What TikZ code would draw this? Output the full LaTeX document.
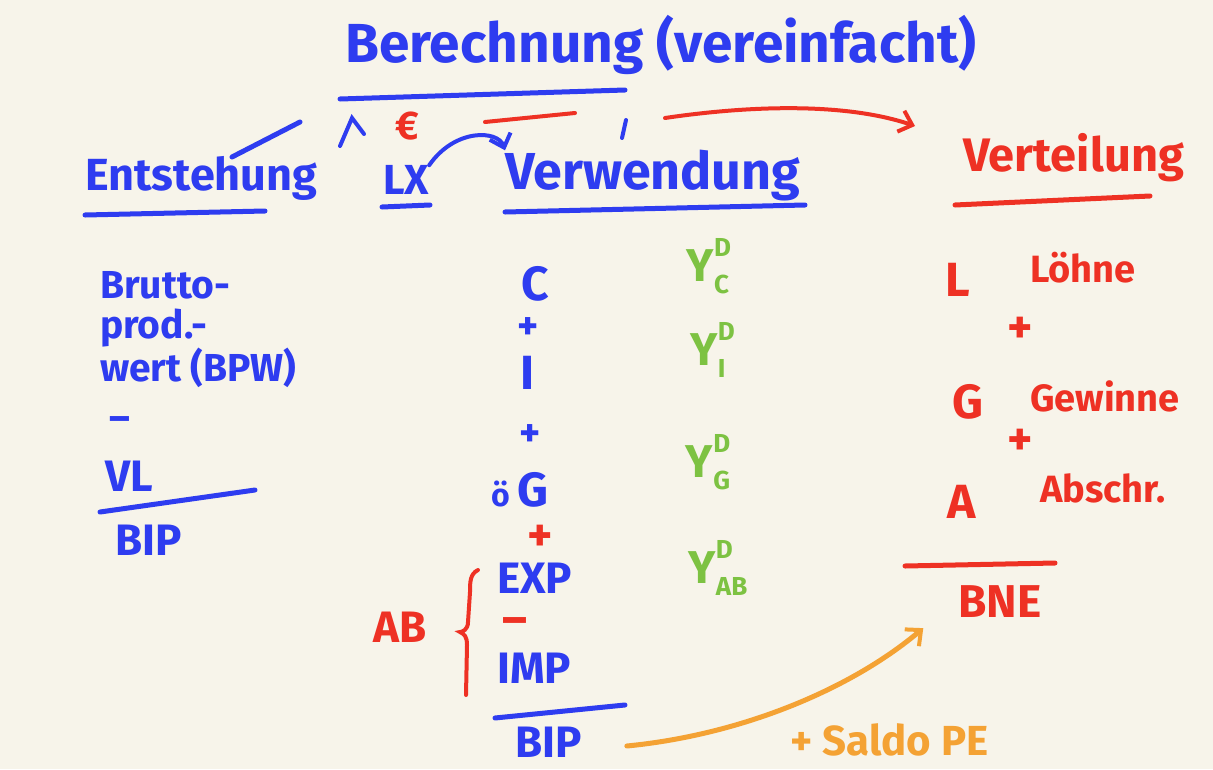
\documentclass[tikz,border=0pt]{standalone}
\usepackage{fontspec}
\setmainfont{Fira Sans}
\usetikzlibrary{arrows.meta,calc}
\definecolor{bg}{HTML}{F7F4EA}
\definecolor{penblue}{HTML}{2E3CF0}
\definecolor{penred}{HTML}{EE3124}
\definecolor{pengreen}{HTML}{7DC242}
\definecolor{penorange}{HTML}{F4A234}
\newcommand{\fs}[1]{\fontsize{#1}{#1}\selectfont\bfseries}
\newcommand{\ydc}[1]{Y\rlap{\raisebox{0.55em}{\fs{26}D}}\raisebox{-0.25em}{\fs{26}#1}}
\tikzset{
  bl/.style={text=penblue, inner sep=0pt, font=\fs{44}},
  rd/.style={text=penred, inner sep=0pt, font=\fs{44}},
  gr/.style={text=pengreen, inner sep=0pt, font=\fs{46}},
  og/.style={text=penorange, inner sep=0pt, font=\fs{42}},
  bstroke/.style={draw=penblue, line width=5pt, line cap=round},
  rstroke/.style={draw=penred, line width=5pt, line cap=round},
  ostroke/.style={draw=penorange, line width=5pt, line cap=round},
  pentip/.style={-{Straight Barb[length=12pt,width=22pt,line width=4pt]}}
}
\begin{document}
\begin{tikzpicture}[x=1pt,y=-1pt]
\fill[bg] (0,0) rectangle (1213,769);
\useasboundingbox (0,0) rectangle (1213,769);

% title
\node[bl, anchor=west, font=\fs{55}] (title) at (345,45) {Berechnung (vereinfacht)};
\draw[bstroke] (340,99) -- (625,90);

% headings
\node[bl, anchor=west, font=\fs{45}] (entst) at (85,178) {Entstehung};
\draw[bstroke] (85,215) -- (265,211);
\draw[bstroke] (232,157) -- (300,122);
\node[bl, font=\fs{42}] (lx) at (406,180) {LX};
\draw[bstroke] (382,207) -- (430,205);
\draw[bstroke, line width=4pt] (340,146) -- (352,118) -- (364,134);
\node[rd, font=\fs{40}] (euro) at (407,126) {€};
\node[bl, anchor=west, font=\fs{52}] (verw) at (505,176) {Verwendung};
\draw[bstroke] (505,212) -- (805,205);
\node[rd, anchor=west, font=\fs{47}] (verteil) at (963,158) {Verteilung};
\draw[rstroke] (955,205) -- (1150,196);

\draw[bstroke, line width=4pt, pentip] (lx.north east) .. controls (455,128) and (498,130) .. (verw.north west);
\draw[rstroke, line width=4pt] (485,122) -- (575,113);
\draw[bstroke, line width=4pt] (626,120) -- (622,138);
\coordinate (rs) at (665,118);
\coordinate (re) at (915,126);
\draw[rstroke, line width=4pt, pentip] (rs) .. controls (760,104) and (850,104) .. (re);

% Entstehung column
\node[bl, anchor=west, align=left, font=\fontsize{39}{40}\selectfont\bfseries] (bpw) at (100,330) {Brutto-\\prod.-\\wert (BPW)};
\node[bl, font=\fs{40}] (minus1) at (120,424) {–};
\node[bl, anchor=west] (vl) at (105,476) {VL};
\draw[bstroke] (100,512) -- (255,490);
\node[bl, anchor=west] (bip1) at (115,540) {BIP};

% Verwendung column
\node[bl, font=\fs{48}] (c) at (535,284) {C};
\node[bl, font=\fs{40}] (p1) at (528,329) {+};
\node[bl, font=\fs{48}] (i) at (528,373) {I};
\node[bl, font=\fs{40}] (p2) at (530,436) {+};
\node[bl, font=\fs{48}] (og) at (520,490) {{\fs{32}ö}\,G};
\node[rd, font=\fs{48}] (p3) at (540,538) {+};
\node[bl, anchor=west] (exp) at (497,578) {EXP};
\node[rd, font=\fs{48}] (minus2) at (515,627) {–};
\node[bl, anchor=west] (imp) at (497,668) {IMP};
\draw[bstroke] (495,718) -- (625,705);
\node[bl, anchor=west] (bip2) at (515,742) {BIP};

\node[rd, font=\fs{44}] (ab) at (400,627) {AB};
\draw[rstroke, line width=4pt] (478,570) .. controls (470,574) and (470,582) .. (470,592) -- (468,622) .. controls (468,630) and (462,632) .. (460,632) .. controls (464,634) and (467,636) .. (467,645) -- (466,695);

% green
\node[gr] (ydc) at (708,266) {\ydc{C}};
\node[gr] (ydi) at (708,350) {\ydc{I}};
\node[gr] (ydg) at (708,462) {\ydc{G}};
\node[gr] (ydab) at (718,568) {\ydc{AB}};

% Verteilung column
\node[rd, font=\fs{48}] (l) at (958,280) {L};
\node[rd, anchor=west, font=\fs{38}] (loehne) at (1030,268) {Löhne};
\node[rd, font=\fs{48}] (p4) at (1020,330) {+};
\node[rd, font=\fs{48}] (g) at (968,402) {G};
\node[rd, anchor=west, font=\fs{38}] (gew) at (1030,396) {Gewinne};
\node[rd, font=\fs{48}] (p5) at (1020,442) {+};
\node[rd, font=\fs{48}] (a) at (962,502) {A};
\node[rd, anchor=west, font=\fs{38}] (abschr) at (1040,488) {Abschr.};
\draw[rstroke] (905,566) -- (1055,563);
\node[rd, font=\fs{46}] (bne) at (1000,602) {BNE};

% orange
\coordinate (bneend) at ($(bne.south west)+(-35,10)$);
\draw[ostroke, pentip] (bip2.east) ++(45,4) .. controls (740,735) and (850,690) .. (bneend);
\node[og, anchor=west] (saldo) at (790,740) {+ Saldo PE};
\end{tikzpicture}
\end{document}
